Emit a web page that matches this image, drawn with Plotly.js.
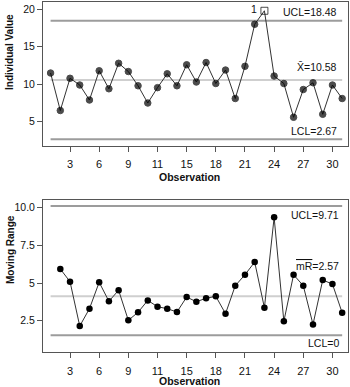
<!DOCTYPE html>
<html>
<head>
<meta charset="utf-8">
<script src="https://cdn.plot.ly/plotly-3.0.1.min.js"></script>
<style>html,body{margin:0;padding:0;background:#fff;}#chart{width:350px;height:387px;}</style>
</head>
<body>
<div id="chart"></div>
<script>
// ---- data ----
const observations = [1,2,3,4,5,6,7,8,9,10,11,12,13,14,15,16,17,18,19,20,21,22,23,24,25,26,27,28,29,30,31];
const individualValues = [11.5,6.5,10.8,9.9,7.9,11.8,9.4,12.8,11.7,9.8,7.5,9.55,11.4,9.8,12.6,10.3,12.9,10.1,11.9,8.1,12.4,18.0,19.8,11.1,10.1,5.6,9.3,10.2,6.0,9.9,8.1];
const rangeObs = [2,3,4,5,6,7,8,9,10,11,12,13,14,15,16,17,18,19,20,21,22,23,24,25,26,27,28,29,30,31];
const movingRanges = [5.93,5.09,2.15,3.30,5.05,3.79,4.52,2.53,3.06,3.85,3.43,3.30,3.08,4.07,3.76,3.99,4.12,2.97,4.82,5.55,6.39,3.36,9.35,2.46,5.55,4.82,2.26,5.2,4.93,3.03];
const outOfControlIndex = [22]; // observation 23
const iLimits = {ucl: 18.48, center: 10.58, lcl: 2.67};
const mrLimitsDrawn = [10.1, 4.12, 1.54]; // positions as drawn on the axis
const iLabels = ["UCL=18.48", "X̄=10.58", "LCL=2.67"];
const mrLabels = ["UCL=9.71", "<span style='text-decoration:overline'>mR</span>=2.57", "LCL=0"];
const xTickVals = [3,6,9,12,15,18,21,24,27,30];
const xTickText = ["3","6","9","11","15","18","21","24","27","30"];
const iTickVals = [5,10,15,20];
const iTickText = ["5","10","15","20"];
const mrTickVals = [2.5,5,7.5,10];
const mrTickText = ["2.5","5","7.5","10.0"];

const W = 350, H = 387;
const FONT = "Liberation Sans, Arial, sans-serif";
const px = x => x / W;
const py = y => 1 - y / H;

const symbols = individualValues.map((v, i) => outOfControlIndex.includes(i) ? 'square-open' : 'circle');
const sizes = individualValues.map((v, i) => outOfControlIndex.includes(i) ? 7 : 6.5);

const traces = [
  {x: observations, y: individualValues, xaxis: 'x', yaxis: 'y', mode: 'lines+markers', type: 'scatter',
   line: {color: '#333', width: 1}, marker: {color: '#000', size: sizes, symbol: symbols, line: {color: '#000', width: 1}}, hoverinfo: 'skip'},
  {x: rangeObs, y: movingRanges, xaxis: 'x2', yaxis: 'y2', mode: 'lines+markers', type: 'scatter',
   line: {color: '#333', width: 1}, marker: {color: '#000', size: 6.5}, hoverinfo: 'skip'}
];

function hline(xr, yr, y, color, width) {
  return {type: 'line', xref: xr, yref: yr, x0: observations[0], x1: observations[observations.length - 1], y0: y, y1: y,
          line: {color: color, width: width}, layer: 'below'};
}
const shapes = [
  hline('x', 'y', iLimits.ucl, '#9c9c9c', 2),
  hline('x', 'y', iLimits.center, '#cfcfcf', 2),
  hline('x', 'y', iLimits.lcl, '#9c9c9c', 2),
  hline('x2', 'y2', mrLimitsDrawn[0], '#9c9c9c', 2),
  hline('x2', 'y2', mrLimitsDrawn[1], '#cfcfcf', 2),
  hline('x2', 'y2', mrLimitsDrawn[2], '#9c9c9c', 2)
];

function ann(text, x, y, xanchor, opts) {
  return Object.assign({text: text, xref: 'paper', yref: 'paper', x: px(x), y: py(y), xanchor: xanchor, yanchor: 'middle',
    showarrow: false, font: {family: FONT, size: 10.5, color: '#111'}}, opts || {});
}
const tfont = {family: FONT, size: 10.5, color: '#111'};
const vfont = {family: FONT, size: 10, color: '#111'};
const annotations = [
  ann(iLabels[0], 339, 12.5, 'right'),
  ann(iLabels[1], 339, 66.5, 'right'),
  ann(iLabels[2], 339, 131, 'right'),
  ann("1", 254, 9.5, 'center'),
  ann(mrLabels[0], 341, 215, 'right'),
  ann(mrLabels[1], 341, 266, 'right'),
  ann(mrLabels[2], 341, 343, 'right'),
  ann("<b>Observation</b>", 190, 177, 'center', {font: tfont}),
  ann("<b>Observation</b>", 190, 380.5, 'center', {font: tfont}),
  ann("<b>Individual Value</b>", 10, 52, 'center', {textangle: -90, font: vfont}),
  ann("<b>Moving Range</b>", 10, 250, 'center', {textangle: -90, font: vfont})
];

const xcommon = {showgrid: false, zeroline: false, showline: true, mirror: true, linecolor: '#555', linewidth: 1,
  ticks: 'outside', ticklen: 5, tickcolor: '#555', tickvals: xTickVals, ticktext: xTickText, ticklabelstandoff: 3,
  tickfont: {family: FONT, size: 11, color: '#111'}, range: [0.22, 31.6], fixedrange: true};
const ycommon = {showgrid: false, zeroline: false, showline: true, mirror: true, linecolor: '#555', linewidth: 1,
  ticks: 'outside', ticklen: 5, tickcolor: '#555', tickfont: {family: FONT, size: 10.5, color: '#111'}, fixedrange: true};

const layout = {
  width: W, height: H, margin: {l: 0, r: 0, t: 0, b: 0}, paper_bgcolor: '#fff', plot_bgcolor: '#fff',
  showlegend: false,
  xaxis: Object.assign({}, xcommon, {domain: [px(43), px(348)], anchor: 'y'}),
  yaxis: Object.assign({}, ycommon, {domain: [py(145.7), py(2)], anchor: 'x', range: [1.81, 20.97], tickvals: iTickVals, ticktext: iTickText}),
  xaxis2: Object.assign({}, xcommon, {domain: [px(43), px(348)], anchor: 'y2'}),
  yaxis2: Object.assign({}, ycommon, {domain: [py(352.3), py(200)], anchor: 'x2', range: [0.41, 10.5], tickvals: mrTickVals, ticktext: mrTickText}),
  shapes: shapes, annotations: annotations
};

Plotly.newPlot('chart', traces, layout, {displayModeBar: false, staticPlot: true});
</script>
</body>
</html>
